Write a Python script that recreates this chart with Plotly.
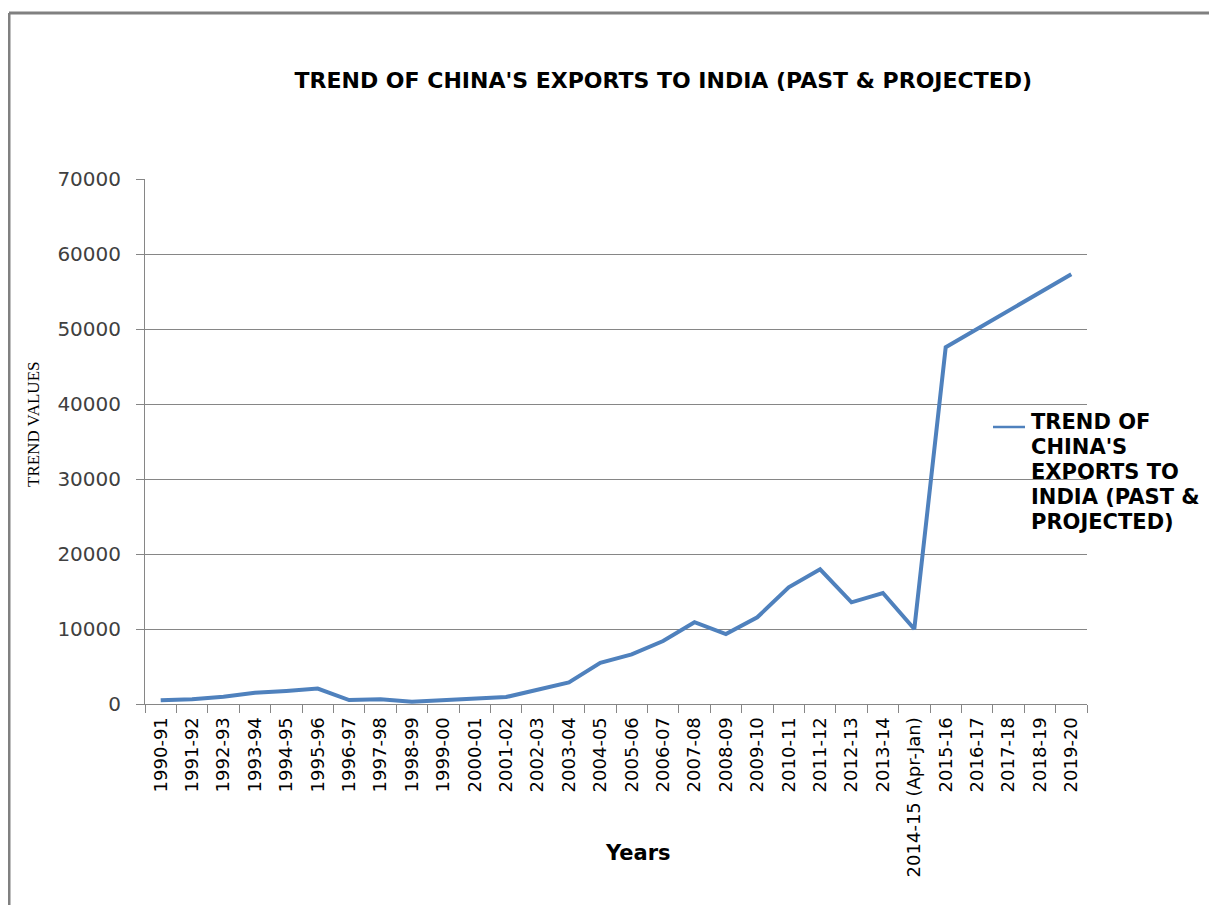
import plotly.graph_objects as go

years = ["1990-91", "1991-92", "1992-93", "1993-94", "1994-95", "1995-96", "1996-97",
         "1997-98", "1998-99", "1999-00", "2000-01", "2001-02", "2002-03", "2003-04",
         "2004-05", "2005-06", "2006-07", "2007-08", "2008-09", "2009-10", "2010-11",
         "2011-12", "2012-13", "2013-14", "2014-15 (Apr-Jan)", "2015-16", "2016-17",
         "2017-18", "2018-19", "2019-20"]
trend_values = [500, 650, 970, 1500, 1750, 2050, 530, 620, 310, 490, 800, 930, 1900, 2890,
                5500, 6620, 8400, 10900, 9330, 11560, 15560, 17960, 13560, 14800, 10000,
                47560, 50000, 52400, 54800, 57290]
y_ticks = [0, 10000, 20000, 30000, 40000, 50000, 60000, 70000]
legend_lines = ["TREND OF", "CHINA'S", "EXPORTS TO", "INDIA (PAST &", "PROJECTED)"]

LINE_COLOR = "#4F81BD"

# page has an 8px body margin: figure is drawn 8px right/down of the window origin
OFF = 8
FIG_W, FIG_H = 1217 - 2 * OFF, 913 - 2 * OFF
# plot area in window pixels
L, R, T, B = 145, 1087, 179, 704
W, H = R - L, B - T
def px(x): return (x - L) / W
def py(y): return (B - y) / H

fig = go.Figure()
fig.add_trace(go.Scatter(x=years, y=trend_values, mode="lines",
                         name="TREND OF CHINA'S EXPORTS TO INDIA (PAST & PROJECTED)",
                         line=dict(color=LINE_COLOR, width=4), showlegend=False))

annotations = [
    dict(text="TREND VALUES", x=px(33), y=py(425), xref="paper", yref="paper",
         xanchor="center", yanchor="middle", showarrow=False, textangle=-90,
         font=dict(family="Liberation Serif", size=17, color="black")),
    dict(text="<b>Years</b>", x=px(638), y=py(853), xref="paper", yref="paper",
         xanchor="center", yanchor="middle", showarrow=False,
         font=dict(family="DejaVu Sans", size=21, color="black")),
]
# legend text (multi-line, tight spacing)
for i, t in enumerate(legend_lines):
    annotations.append(dict(text="<b>" + t + "</b>", x=px(1029), xanchor="left",
                            y=py(422 + 25 * i), yanchor="middle",
                            xref="paper", yref="paper", showarrow=False,
                            font=dict(family="DejaVu Sans", size=21, color="black")))

fig.update_layout(
    width=FIG_W, height=FIG_H,
    margin=dict(l=L - OFF, r=FIG_W - (R - OFF), t=T - OFF, b=FIG_H - (B - OFF),
                autoexpand=False),
    paper_bgcolor="white", plot_bgcolor="white",
    font=dict(family="DejaVu Sans", color="#404040"),
    showlegend=False,
    title=dict(text="<b>TREND OF CHINA'S EXPORTS TO INDIA (PAST & PROJECTED)</b>",
               x=px(659), xanchor="center", y=1 - (80 - OFF) / FIG_H, yanchor="middle",
               font=dict(family="DejaVu Sans", size=22, color="black")),
    xaxis=dict(type="category", range=[-0.5, len(years) - 0.5], tickangle=-90,
               tickson="boundaries", ticks="outside",
               ticklen=8, tickcolor="#868686", showline=True, linecolor="#868686",
               linewidth=1, showgrid=False, ticklabelstandoff=5,
               tickfont=dict(family="DejaVu Sans", size=18, color="black")),
    yaxis=dict(range=[0, 70000], tickvals=y_ticks, tickformat="d", ticks="outside",
               ticklen=8, tickcolor="#868686", showline=True, linecolor="#868686",
               linewidth=1, showgrid=True, gridcolor="#868686", gridwidth=1,
               zeroline=False, ticklabelstandoff=11,
               tickfont=dict(family="DejaVu Sans", size=20, color="#404040")),
    annotations=annotations,
    shapes=[
        # legend key line
        dict(type="line", xref="paper", yref="paper", x0=px(993), x1=px(1025),
             y0=py(427), y1=py(427), line=dict(color=LINE_COLOR, width=2.5)),
        # outer chart border (left and top)
        dict(type="line", xref="paper", yref="paper", x0=px(9), x1=px(9),
             y0=py(920), y1=py(13), line=dict(color="#808080", width=3)),
        dict(type="line", xref="paper", yref="paper", x0=px(9), x1=px(1230),
             y0=py(13), y1=py(13), line=dict(color="#808080", width=3)),
    ],
)

fig.write_html("out.html")
